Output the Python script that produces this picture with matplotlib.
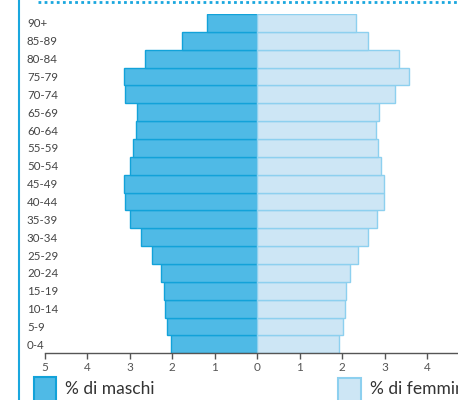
import matplotlib
matplotlib.use("Agg")
import matplotlib.pyplot as plt
from matplotlib.patches import Rectangle
from matplotlib.lines import Line2D
import numpy as np

# age groups, bottom to top
ages = ["0-4", "5-9", "10-14", "15-19", "20-24", "25-29", "30-34", "35-39",
        "40-44", "45-49", "50-54", "55-59", "60-64", "65-69", "70-74",
        "75-79", "80-84", "85-89", "90+"]
# percentages
maschi = [2.04, 2.12, 2.18, 2.20, 2.27, 2.49, 2.75, 2.99, 3.12, 3.14,
          3.00, 2.93, 2.85, 2.84, 3.12, 3.15, 2.64, 1.77, 1.19]
femmine = [1.92, 2.01, 2.07, 2.09, 2.18, 2.38, 2.61, 2.82, 2.98, 2.98,
           2.91, 2.85, 2.80, 2.88, 3.24, 3.57, 3.33, 2.60, 2.32]
xticks = [-5, -4, -3, -2, -1, 0, 1, 2, 3, 4]

blue = "#1aa7de"
c_m = "#4fbae6"
c_m_edge = "#12a2d9"
c_f = "#cde6f5"
c_f_edge = "#8dd0ef"
grey = "#555555"

plt.rcParams['font.family'] = ['Lato', 'DejaVu Sans']

W, H = 458, 400
fig = plt.figure(figsize=(W / 100, H / 100), dpi=100)
ax = fig.add_axes([45 / W, (H - 353.3) / H, (W - 45) / W, (353.3 - 14) / H])

y = np.arange(len(ages))
ax.barh(y, -np.array(maschi), height=1.0, color=c_m, edgecolor=c_m_edge, linewidth=1.0)
ax.barh(y, femmine, height=1.0, color=c_f, edgecolor=c_f_edge, linewidth=1.0)

ax.set_xlim(-5, (W - 257) / 42.5)
ax.set_ylim(-0.5, len(ages) - 0.5)

for s in ["top", "right", "left"]:
    ax.spines[s].set_visible(False)
ax.spines["bottom"].set_color(grey)
ax.spines["bottom"].set_linewidth(1.0)

ax.set_xticks(xticks)
ax.set_xticklabels([str(abs(v)) for v in xticks])
ax.tick_params(axis="x", direction="out", length=4, width=1, color=grey,
               labelcolor=grey, labelsize=8.5, pad=2)

ax.set_yticks(y)
ax.set_yticklabels(ages)
ax.tick_params(axis="y", length=0, pad=13, labelsize=8.3, labelcolor="#444444")
for lab in ax.get_yticklabels():
    lab.set_horizontalalignment("left")

# frame lines of the page
fig.add_artist(Line2D([19 / W, 19 / W], [0, 1], color=blue, linewidth=1.5))
fig.add_artist(Line2D([38 / W, 1], [(H - 1.5) / H, (H - 1.5) / H], color=blue,
                      linewidth=2, linestyle=(0, (1, 1.2))))

# legend
fig.add_artist(Rectangle((33.5 / W, -0.02), 22.5 / W, (22.7 / H) + 0.02,
                         facecolor=c_m, edgecolor=c_m_edge, linewidth=1.5))
fig.add_artist(Rectangle((338 / W, -0.02), 23 / W, (22.3 / H) + 0.02,
                         facecolor=c_f, edgecolor=c_f_edge, linewidth=1.5))
fig.text(65 / W, (H - 389) / H, "% di maschi", fontsize=12.5, color="#333333",
         va="center", ha="left")
fig.text(370 / W, (H - 389) / H, "% di femmine", fontsize=12.5, color="#333333",
         va="center", ha="left")

fig.savefig("out.png", dpi=100)
